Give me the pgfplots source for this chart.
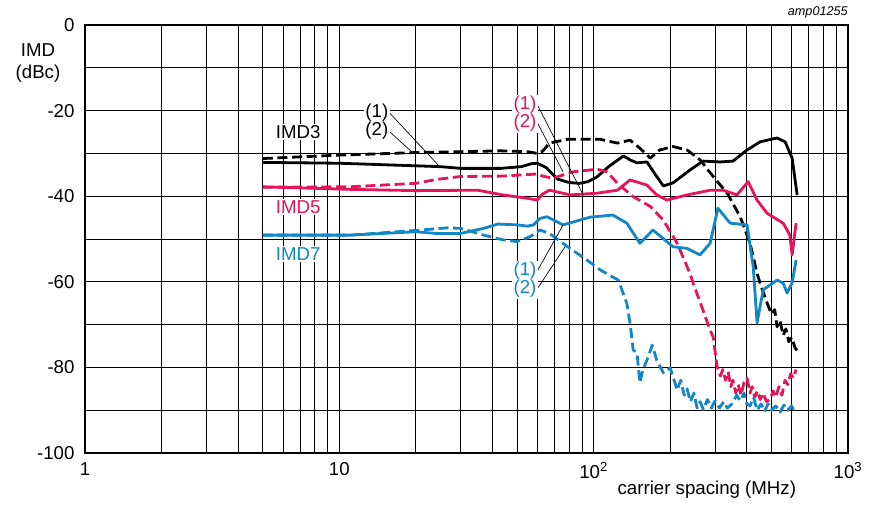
\documentclass[border=0pt]{standalone}
\usepackage{fontspec}
\setmainfont{Liberation Sans}
\usepackage{pgfplots}
\pgfplotsset{compat=1.18}
\usetikzlibrary{calc}
\definecolor{imdpink}{RGB}{232,20,90}
\definecolor{imdblue}{RGB}{18,135,200}
\tikzset{
  dashpat/.style={dash pattern=on 7.5pt off 3.5pt},
  lab/.style={fill=white, inner sep=1pt},
}
\begin{document}
\fontsize{14}{16.5}\selectfont
\begin{tikzpicture}
\begin{axis}[
  scale only axis, width=572.25pt, height=321pt,
  xmode=log, xmin=1, xmax=1000, ymin=-100, ymax=0,
  xtick={1,10,100,1000},
  xticklabels={1,10,10\textsuperscript{2},10\textsuperscript{3}},
  ytick={-100,-80,...,0}, yticklabels={-100,-80,-60,-40,-20,0},
  minor ytick={-90,-70,...,-10},
  grid=both,
  major grid style={black, line width=0.6pt},
  minor grid style={black, line width=0.6pt},
  axis line style={black, line width=0.8pt},
  tick style={draw=none},
  yticklabel style={xshift=-3pt},
  xticklabel style={yshift=-2.5pt},
  clip=false,
  every axis plot/.append style={line width=2.1pt, line join=round},
]
\coordinate (sw) at (rel axis cs:0,0);
\coordinate (ne) at (rel axis cs:1,1);

% IMD3 (1)
\addplot[black] coordinates {
(5,-32.1) (10,-32.3) (20,-32.9) (25,-33.1) (30,-33.5) (43,-33.5) (52,-33.1)
(57,-32.4) (60,-32.3) (65,-33.3) (72,-36.0) (80,-36.8) (88,-37.0) (95,-36.6)
(103,-35.5) (115,-33.0) (131,-30.6) (140,-31.6) (148,-32.2) (162,-32.0)
(175,-35.0) (188,-37.6) (205,-36.9) (239,-33.9) (269,-31.8) (314,-32.0)
(353,-31.8) (401,-29.2) (451,-27.3) (526,-26.4) (566,-27.3) (603,-31.1) (631,-39.7)};
% IMD3 (2)
\addplot[black, dashpat] coordinates {
(5,-31.2) (10,-30.4) (20,-29.8) (30,-29.6) (43,-29.4) (55,-29.6) (60,-30.0)
(63,-29.5) (67,-27.6) (79,-26.7) (106,-26.7) (124,-27.6) (139,-26.9) (152,-28.8)
(167,-31.1) (182,-29.2) (205,-28.4) (233,-29.2) (262,-31.5) (295,-35.4)
(335,-39.3) (377,-44.8) (412,-51.0) (439,-58.0) (451,-60.3) (481,-65.0)
(500,-67.5) (515,-66.5) (526,-70.5) (540,-69.0) (556,-72.5) (570,-71.0)
(585,-74.0) (600,-73.0) (620,-75.5) (631,-76.0)};
% IMD5 (1)
\addplot[imdpink] coordinates {
(5,-37.8) (11,-38.4) (20,-38.7) (35,-38.6) (44,-39.7) (55,-40.5) (60,-40.9)
(63,-39.5) (67,-38.6) (81,-39.7) (103,-39.3) (124,-38.6) (139,-36.2) (162,-37.4)
(177,-39.7) (194,-40.9) (233,-39.7) (287,-38.6) (323,-38.6) (366,-39.7)
(405,-36.6) (439,-40.9) (481,-44.0) (556,-46.3) (590,-49.0) (603,-53.7) (625,-46.3)};
% IMD5 (2)
\addplot[imdpink, dashpat] coordinates {
(5,-37.9) (11,-37.8) (20,-37.0) (24,-36.1) (30,-35.4) (44,-35.3) (60,-34.8)
(63,-35.3) (69,-35.8) (83,-34.3) (103,-33.7) (113,-34.3) (124,-37.0) (143,-40.1)
(167,-42.4) (188,-45.6) (213,-51.0) (239,-58.0) (246,-60.3) (269,-66.6)
(287,-71.3) (295,-72.9) (306,-79.9) (315,-82.0) (322,-80.5) (330,-83.0)
(338,-81.0) (346,-84.5) (353,-83.0) (362,-86.0) (370,-84.0) (380,-86.5)
(390,-83.5) (401,-82.5) (412,-86.0) (420,-84.5) (430,-87.0) (440,-85.5)
(452,-87.5) (464,-86.0) (478,-88.0) (494,-87.5) (508,-85.5) (520,-87.0)
(535,-84.5) (550,-86.5) (565,-83.0) (580,-84.0) (595,-81.5) (610,-82.5) (625,-80.5)};
% IMD7 (1)
\addplot[imdblue] coordinates {
(5,-49.1) (11,-49.1) (20,-48.3) (24,-48.7) (30,-48.7) (37,-47.5) (42,-46.5)
(50,-46.7) (55,-47.0) (58,-46.7) (61.5,-45.2) (65.6,-44.8) (75.8,-46.7)
(96.8,-44.9) (119,-44.4) (135,-46.3) (152,-51.0) (171,-47.9) (205,-51.8)
(233,-52.2) (262,-53.7) (287,-51.0) (308,-42.8) (344,-46.3) (401,-46.7)
(424,-56.5) (439,-69.6) (464,-61.9) (526,-59.6) (556,-60.3) (576,-62.6)
(603,-60.3) (625,-54.9)};
% IMD7 (2)
\addplot[imdblue, dashpat] coordinates {
(5,-49.1) (11,-49.1) (20,-48.0) (26.5,-47.4) (30,-47.5) (37,-49.1) (44,-50.2)
(50,-50.6) (56,-49.5) (61.5,-47.9) (67,-48.7) (79,-51.8) (94,-54.9) (106,-57.2)
(119,-58.9) (125,-59.6) (135,-65.0) (139,-69.6) (143,-75.9) (148,-76.6)
(152,-83.6) (156,-80.6) (162,-78.3) (170,-74.8) (177,-78.3) (188,-81.3)
(200,-80.1) (213,-85.3) (220,-83.0) (227,-86.5) (233,-85.0) (240,-88.0)
(248,-86.0) (255,-89.5) (262,-88.0) (270,-89.8) (280,-87.5) (290,-89.5)
(300,-87.8) (312,-89.5) (325,-88.0) (335,-89.5) (350,-88.5) (365,-86.5)
(377,-87.8) (390,-86.0) (400,-88.5) (412,-89.0) (425,-87.0) (440,-90.0)
(455,-88.5) (470,-90.3) (485,-88.5) (500,-90.0) (520,-89.0) (540,-90.5)
(560,-88.8) (580,-90.0) (600,-89.0) (615,-90.2)};

% annotations
\node[lab, anchor=west] at (axis cs:5.55,-25.0) {IMD3};
\node[lab, anchor=west, text=imdpink] at (axis cs:5.55,-42.5) {IMD5};
\node[lab, anchor=west, text=imdblue] at (axis cs:5.55,-53.5) {IMD7};
\draw[line width=0.5pt] (axis cs:15.8,-20.6) -- (axis cs:24.9,-33.2);
\draw[line width=0.5pt] (axis cs:15.8,-25.0) -- (axis cs:19.5,-29.9);
\node[lab, anchor=east] at (axis cs:15.8,-20.4) {(1)};
\node[lab, anchor=east] at (axis cs:15.8,-24.8) {(2)};
\draw[line width=0.5pt] (axis cs:60.4,-18.9) -- (axis cs:90.8,-39.6);
\draw[line width=0.5pt] (axis cs:60.4,-23.1) -- (axis cs:75.8,-34.3);
\node[lab, anchor=east, text=imdpink] at (axis cs:60.4,-18.7) {(1)};
\node[lab, anchor=east, text=imdpink] at (axis cs:60.4,-22.9) {(2)};
\draw[line width=0.5pt] (axis cs:60.4,-57.2) -- (axis cs:75.8,-46.7);
\draw[line width=0.5pt] (axis cs:60.4,-61.4) -- (axis cs:77.2,-51.8);
\node[lab, anchor=east, text=imdblue] at (axis cs:60.4,-57.4) {(1)};
\node[lab, anchor=east, text=imdblue] at (axis cs:60.4,-61.6) {(2)};

\node[align=center] at (rel axis cs:-0.0616,0.912) {IMD\\(dBc)};
\node[anchor=east, inner sep=0pt, font=\fontsize{9.5}{11}\selectfont\itshape] at (rel axis cs:1,1.03) {amp01255};
\node at (rel axis cs:0.815,-0.0864) {carrier spacing (MHz)};
\end{axis}
\path ($(sw)+(-63.75pt,-38.25pt)$) rectangle ($(ne)+(16.5pt,18.75pt)$);
\end{tikzpicture}
\end{document}
